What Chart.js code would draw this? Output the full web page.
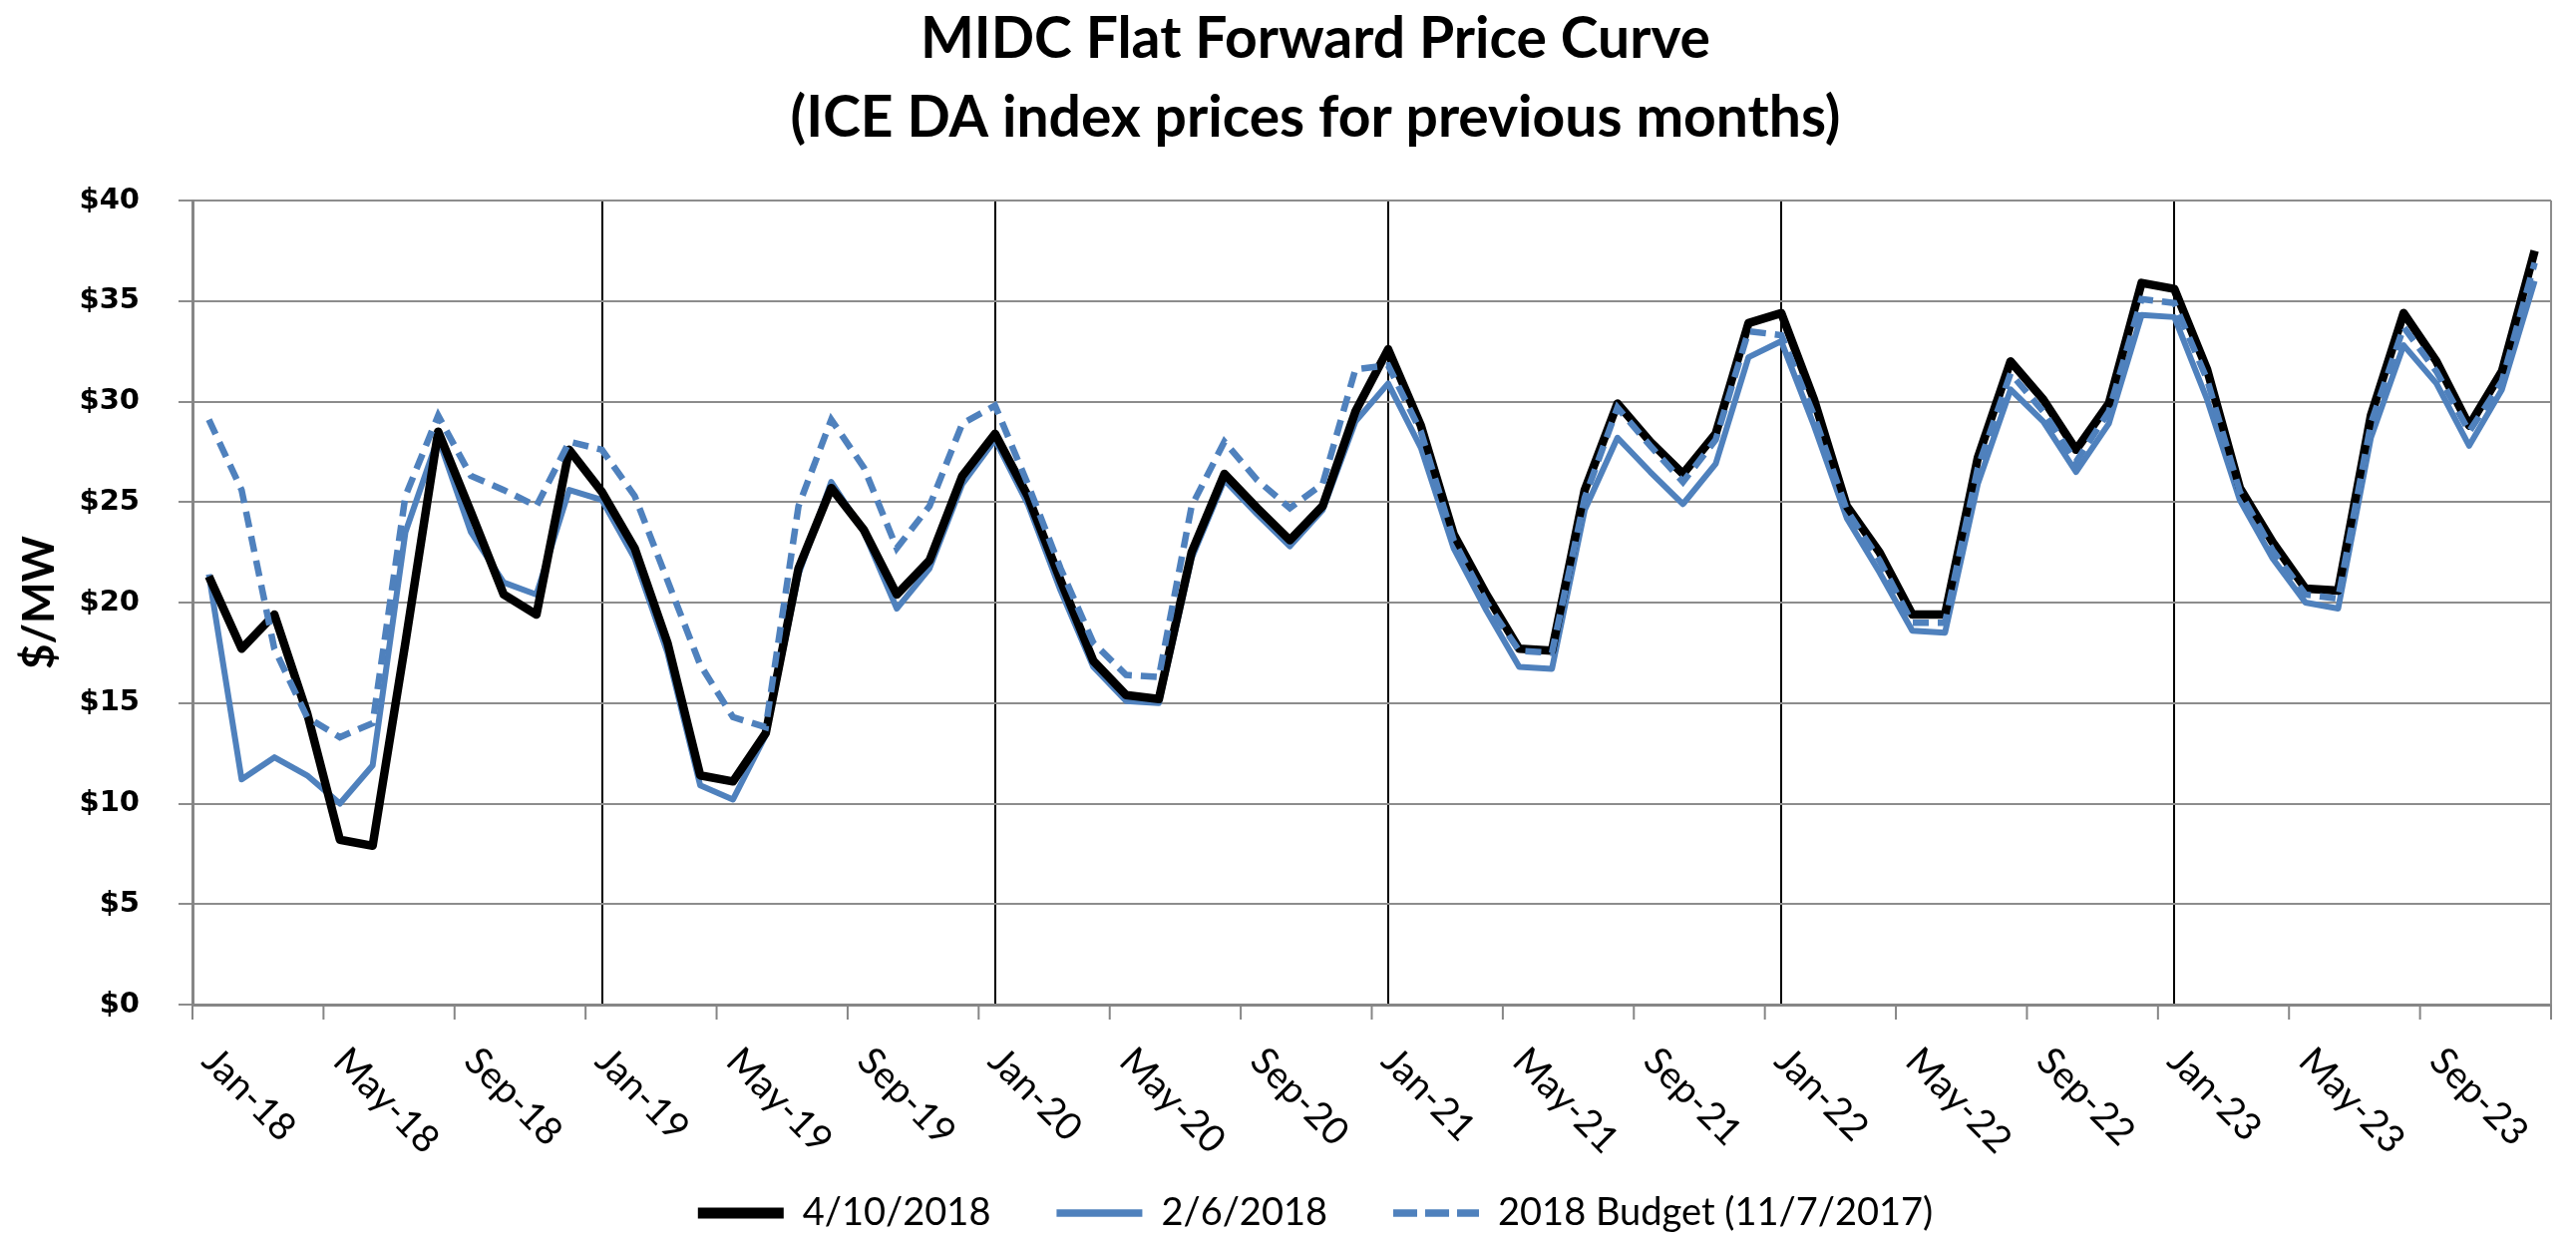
<!DOCTYPE html>
<html>
<head>
<meta charset="utf-8">
<title>MIDC Flat Forward Price Curve</title>
<script src="https://cdn.jsdelivr.net/npm/chart.js@4.4.1/dist/chart.umd.min.js"></script>
<style>
  html, body { margin: 0; padding: 0; background: #ffffff; }
  canvas { display: block; }
</style>
</head>
<body>
<canvas id="priceChart" width="2583" height="1250"></canvas>
<script>
// Category labels (Jan-18 ... Dec-23)
const monthNames = ["Jan", "Feb", "Mar", "Apr", "May", "Jun", "Jul", "Aug", "Sep", "Oct", "Nov", "Dec"];
const yearSuffixes = ["18", "19", "20", "21", "22", "23"];
const monthLabels = yearSuffixes.flatMap((y) => monthNames.map((m) => `${m}-${y}`));

// $/MW values, one per month
const curveApr10 = [
  21.3, 17.7, 19.4, 14.5, 8.2, 7.9, 18.0, 28.5, 24.5, 20.4, 19.4, 27.6,
  25.5, 22.7, 18.0, 11.4, 11.1, 13.5, 21.7, 25.7, 23.6, 20.4, 22.1, 26.3,
  28.4, 25.3, 21.1, 17.1, 15.4, 15.2, 22.5, 26.4, 24.7, 23.1, 24.8, 29.5,
  32.6, 28.8, 23.4, 20.4, 17.7, 17.6, 25.6, 29.9, 28.0, 26.4, 28.4, 33.9,
  34.4, 30.1, 24.8, 22.5, 19.4, 19.4, 27.2, 32.0, 30.1, 27.6, 29.9, 35.9,
  35.6, 31.6, 25.7, 23.0, 20.7, 20.6, 29.3, 34.4, 32.0, 28.8, 31.5, 37.5,
];
const curveFeb6 = [
  21.4, 11.2, 12.3, 11.4, 10.0, 11.9, 23.5, 28.2, 23.5, 21.0, 20.4, 25.6,
  25.1, 22.2, 17.5, 10.9, 10.2, 13.4, 21.4, 26.0, 23.5, 19.7, 21.7, 25.9,
  28.1, 24.9, 20.6, 16.8, 15.1, 15.0, 22.2, 26.1, 24.4, 22.8, 24.6, 29.0,
  30.9, 27.7, 22.7, 19.6, 16.8, 16.7, 24.6, 28.2, 26.5, 24.9, 26.9, 32.2,
  33.0, 28.8, 24.2, 21.5, 18.6, 18.5, 25.9, 30.6, 29.0, 26.5, 28.9, 34.3,
  34.2, 30.1, 25.1, 22.2, 20.0, 19.7, 28.2, 32.8, 30.9, 27.8, 30.6, 36.0,
];
const budgetNov7 = [
  29.1, 25.6, 17.7, 14.3, 13.3, 14.0, 25.3, 29.3, 26.3, 25.6, 24.8, 28.0,
  27.6, 25.3, 21.1, 16.9, 14.3, 13.8, 24.8, 29.1, 26.7, 22.7, 24.8, 28.9,
  29.8, 25.9, 21.7, 18.0, 16.4, 16.3, 24.8, 28.0, 26.1, 24.7, 25.9, 31.6,
  31.8, 28.5, 23.1, 20.0, 17.6, 17.5, 25.2, 29.7, 27.8, 26.0, 28.1, 33.5,
  33.3, 29.3, 24.6, 22.1, 19.0, 19.0, 26.7, 31.4, 29.5, 27.0, 29.5, 35.1,
  34.9, 31.1, 25.5, 22.6, 20.4, 20.2, 28.9, 33.7, 31.5, 28.5, 31.0, 36.9,
];

const seriesNames = ["4/10/2018", "2/6/2018", "2018 Budget (11/7/2017)"];
const titleLines = ["MIDC Flat Forward Price Curve", "(ICE DA index prices for previous months)"];
const yAxisTitle = "$/MW";
const yearStartIdx = [12, 24, 36, 48, 60]; // black vertical lines at each January
const labelEvery = 4;

const gridGray = "#8c8c8c";
const axisGray = "#868686";
const excelBlue = "#4f81bd";

// legend samples are drawn a bit heavier than the plotted lines
const legendLineWidths = [11, 7.5, 7.5];
const legendDash = [24, 8];

// Extra drawing: rotated month labels, between-category tick marks, right frame, y title
const extrasPlugin = {
  id: "extras",
  afterDraw(chart) {
    const { ctx, chartArea } = chart;
    const x = chart.scales.x;
    const half = (x.getPixelForValue(1) - x.getPixelForValue(0)) / 2;
    ctx.save();

    // right edge of plot area
    ctx.strokeStyle = gridGray;
    ctx.lineWidth = 2;
    ctx.beginPath();
    ctx.moveTo(chartArea.right, chartArea.top);
    ctx.lineTo(chartArea.right, chartArea.bottom);
    ctx.stroke();

    // tick marks between categories
    ctx.strokeStyle = axisGray;
    ctx.lineWidth = 2;
    for (let i = 0; i <= monthLabels.length; i += labelEvery) {
      const px = x.getPixelForValue(i) - half;
      ctx.beginPath();
      ctx.moveTo(px, chartArea.bottom);
      ctx.lineTo(px, chartArea.bottom + 15);
      ctx.stroke();
    }

    // month labels slanting down to the right
    ctx.fillStyle = "#000000";
    ctx.font = "38px Lato";
    ctx.textAlign = "left";
    ctx.textBaseline = "middle";
    for (let i = 0; i < monthLabels.length; i += labelEvery) {
      const px = x.getPixelForValue(i);
      ctx.save();
      ctx.translate(px, chartArea.bottom + 50);
      ctx.rotate(Math.PI / 4);
      ctx.fillText(monthLabels[i], 0, 0);
      ctx.restore();
    }

    // y axis title
    ctx.save();
    ctx.translate(40, (chartArea.top + chartArea.bottom) / 2);
    ctx.rotate(-Math.PI / 2);
    ctx.font = "bold 44px Lato";
    ctx.textAlign = "center";
    ctx.fillText(yAxisTitle, 0, 0);
    ctx.restore();

    ctx.restore();
  },
};

Chart.defaults.font.family = "Lato";
Chart.defaults.color = "#000000";

const ctx = document.getElementById("priceChart").getContext("2d");
const priceChart = new Chart(ctx, {
  type: "line",
  data: {
    labels: monthLabels,
    datasets: [
      {
        label: seriesNames[0],
        data: curveApr10,
        borderColor: "#000000",
        backgroundColor: "#000000",
        borderWidth: 8.5,
        borderJoinStyle: "round",
        order: 1,
      },
      {
        label: seriesNames[1],
        data: curveFeb6,
        borderColor: excelBlue,
        backgroundColor: excelBlue,
        borderWidth: 6,
        borderJoinStyle: "round",
        order: 2,
      },
      {
        label: seriesNames[2],
        data: budgetNov7,
        borderColor: excelBlue,
        backgroundColor: excelBlue,
        borderWidth: 6.5,
        borderDash: [16, 9],
        order: 0,
      },
    ],
  },
  options: {
    responsive: false,
    animation: false,
    devicePixelRatio: 1,
    elements: {
      point: { radius: 0 },
      line: { tension: 0 },
    },
    layout: {
      padding: { left: 80, right: 25, top: 0, bottom: 5 },
    },
    scales: {
      x: {
        offset: true,
        afterFit: (scale) => {
          scale.height = 124;
        },
        ticks: { display: false },
        grid: {
          color: (c) => (yearStartIdx.includes(c.index) ? "#000000" : "rgba(0,0,0,0)"),
          lineWidth: 2,
          drawTicks: false,
        },
        border: { color: axisGray, width: 3 },
      },
      y: {
        min: 0,
        max: 40,
        afterFit: (scale) => {
          scale.width = 113;
        },
        ticks: {
          stepSize: 5,
          padding: 39,
          color: "#000000",
          font: { family: "DejaVu Sans", size: 29, weight: "bold" },
          callback: (value) => "$" + value,
        },
        grid: { color: gridGray, lineWidth: 2, tickLength: 14 },
        border: { color: axisGray, width: 3 },
      },
    },
    plugins: {
      title: {
        display: true,
        text: titleLines,
        color: "#000000",
        font: { family: "Lato", size: 57, weight: "bold", lineHeight: 1.386 },
        padding: { top: 0, bottom: 43 },
      },
      legend: {
        position: "bottom",
        labels: {
          usePointStyle: true,
          pointStyle: "line",
          pointStyleWidth: 86,
          padding: 66,
          color: "#000000",
          font: { family: "Lato", size: 38 },
          sort: (a, b) => a.datasetIndex - b.datasetIndex,
          // keep each line's weight and dash in the legend sample
          generateLabels: (chart) =>
            Chart.defaults.plugins.legend.labels.generateLabels(chart).map((item) => {
              const ds = chart.data.datasets[item.datasetIndex];
              item.lineWidth = legendLineWidths[item.datasetIndex];
              item.lineDash = ds.borderDash ? legendDash : [];
              return item;
            }),
        },
      },
      tooltip: { enabled: false },
    },
  },
  plugins: [extrasPlugin],
});
</script>
</body>
</html>
